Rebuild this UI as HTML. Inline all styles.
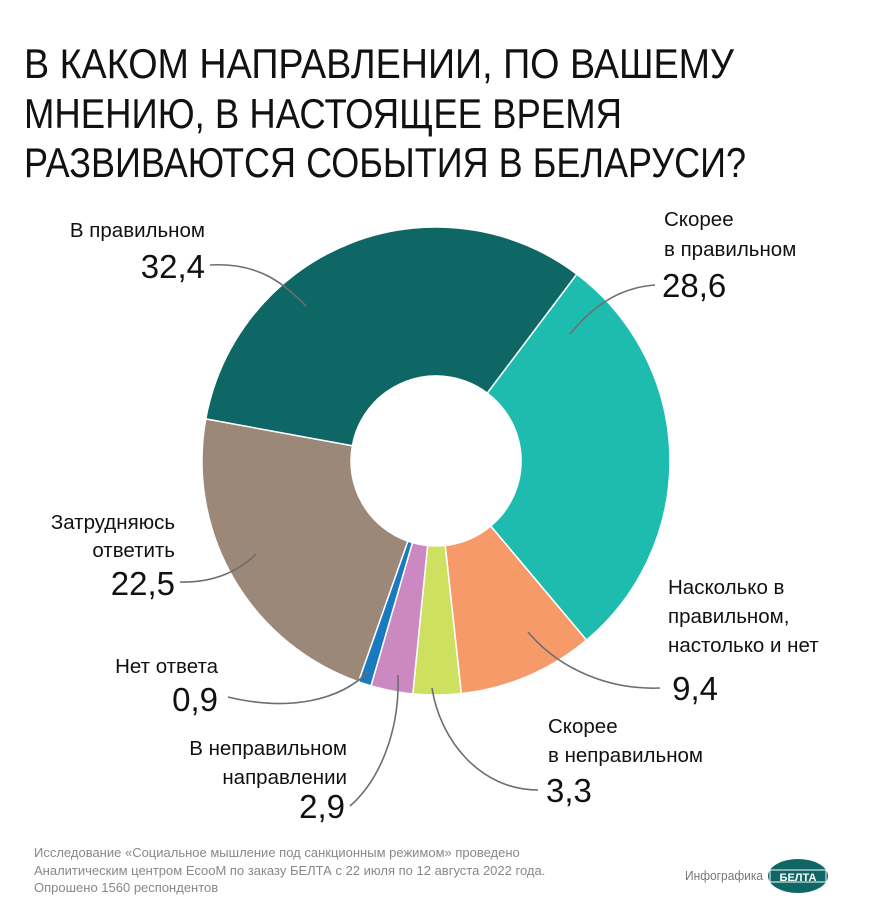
<!DOCTYPE html>
<html><head><meta charset="utf-8"><style>
html,body{margin:0;padding:0;background:#fff;}
svg{display:block;}
text{font-family:"Liberation Sans Narrow","Liberation Sans",sans-serif;fill:#111;}
</style></head><body>
<svg width="870" height="917" viewBox="0 0 870 917" xmlns="http://www.w3.org/2000/svg">
<rect width="870" height="917" fill="#fff"/>
<g font-size="42">
<text x="24" y="78" textLength="710" lengthAdjust="spacingAndGlyphs">В КАКОМ НАПРАВЛЕНИИ, ПО ВАШЕМУ</text>
<text x="24" y="128" textLength="598" lengthAdjust="spacingAndGlyphs">МНЕНИЮ, В НАСТОЯЩЕЕ ВРЕМЯ</text>
<text x="24" y="177" textLength="722" lengthAdjust="spacingAndGlyphs">РАЗВИВАЮТСЯ СОБЫТИЯ В БЕЛАРУСИ?</text>
</g>
<g stroke="#fff" stroke-width="1.5">
<path d="M576.8,274.1 A234,234 0 0 1 586.5,640.1 L490.7,526.1 A85,85 0 0 0 487.2,393.1 Z" fill="#1dbcae"/>
<path d="M586.5,640.1 A234,234 0 0 1 461.3,693.6 L445.2,545.5 A85,85 0 0 0 490.7,526.1 Z" fill="#f79a6a"/>
<path d="M461.3,693.6 A234,234 0 0 1 412.8,693.9 L427.6,545.6 A85,85 0 0 0 445.2,545.5 Z" fill="#cde05f"/>
<path d="M412.8,693.9 A234,234 0 0 1 371.0,685.8 L412.4,542.7 A85,85 0 0 0 427.6,545.6 Z" fill="#cc88c0"/>
<path d="M371.0,685.8 A234,234 0 0 1 358.4,681.8 L407.8,541.2 A85,85 0 0 0 412.4,542.7 Z" fill="#1a7ac0"/>
<path d="M358.4,681.8 A234,234 0 0 1 205.8,418.9 L352.4,445.7 A85,85 0 0 0 407.8,541.2 Z" fill="#9c8878"/>
<path d="M205.8,418.9 A234,234 0 0 1 576.8,274.1 L487.2,393.1 A85,85 0 0 0 352.4,445.7 Z" fill="#0e6665"/>
</g>
<g fill="none" stroke="#6e6e6e" stroke-width="1.6">
<path d="M210,265 C260,262 285,285 306,306"/>
<path d="M655,285 C615,288 590,310 570,334"/>
<path d="M528,632 C560,670 610,690 660,688"/>
<path d="M432,688 C440,740 480,790 538,790"/>
<path d="M398,675 C400,730 380,780 350,806"/>
<path d="M228,697 C290,712 340,700 368,672"/>
<path d="M180,582 C215,583 240,570 256,554"/>
</g>
<g font-size="20.5">
<text x="205" y="237" text-anchor="end">В правильном</text>
<text x="664" y="226">Скорее</text>
<text x="664" y="256">в правильном</text>
<text x="668" y="594">Насколько в</text>
<text x="668" y="623">правильном,</text>
<text x="668" y="652">настолько и нет</text>
<text x="548" y="733">Скорее</text>
<text x="548" y="762">в неправильном</text>
<text x="347" y="755" text-anchor="end">В неправильном</text>
<text x="347" y="784" text-anchor="end">направлении</text>
<text x="218" y="673" text-anchor="end">Нет ответа</text>
<text x="175" y="529" text-anchor="end">Затрудняюсь</text>
<text x="175" y="557" text-anchor="end">ответить</text>
</g>
<g font-size="33">
<text x="205" y="278" text-anchor="end">32,4</text>
<text x="662" y="297">28,6</text>
<text x="718" y="700" text-anchor="end">9,4</text>
<text x="546" y="802">3,3</text>
<text x="345" y="818" text-anchor="end">2,9</text>
<text x="218" y="711" text-anchor="end">0,9</text>
<text x="175" y="595" text-anchor="end">22,5</text>
</g>
<g font-size="13">
<text x="34" y="857" style="fill:#888">Исследование «Социальное мышление под санкционным режимом» проведено</text>
<text x="34" y="875" style="fill:#888">Аналитическим центром EcooM по заказу БЕЛТА с 22 июля по 12 августа 2022 года.</text>
<text x="34" y="892" style="fill:#888">Опрошено 1560 респондентов</text>
<text x="685" y="880" style="fill:#777" textLength="78" lengthAdjust="spacingAndGlyphs">Инфографика</text>
</g>
<ellipse cx="798" cy="876" rx="30" ry="17" fill="#0e6665"/>
<rect x="770" y="870" width="56" height="12" fill="#0e6665" stroke="#fff" stroke-width="1"/>
<text x="798" y="881" text-anchor="middle" font-size="11" font-weight="bold" style="fill:#fff">БЕЛТА</text>
</svg>
</body></html>
